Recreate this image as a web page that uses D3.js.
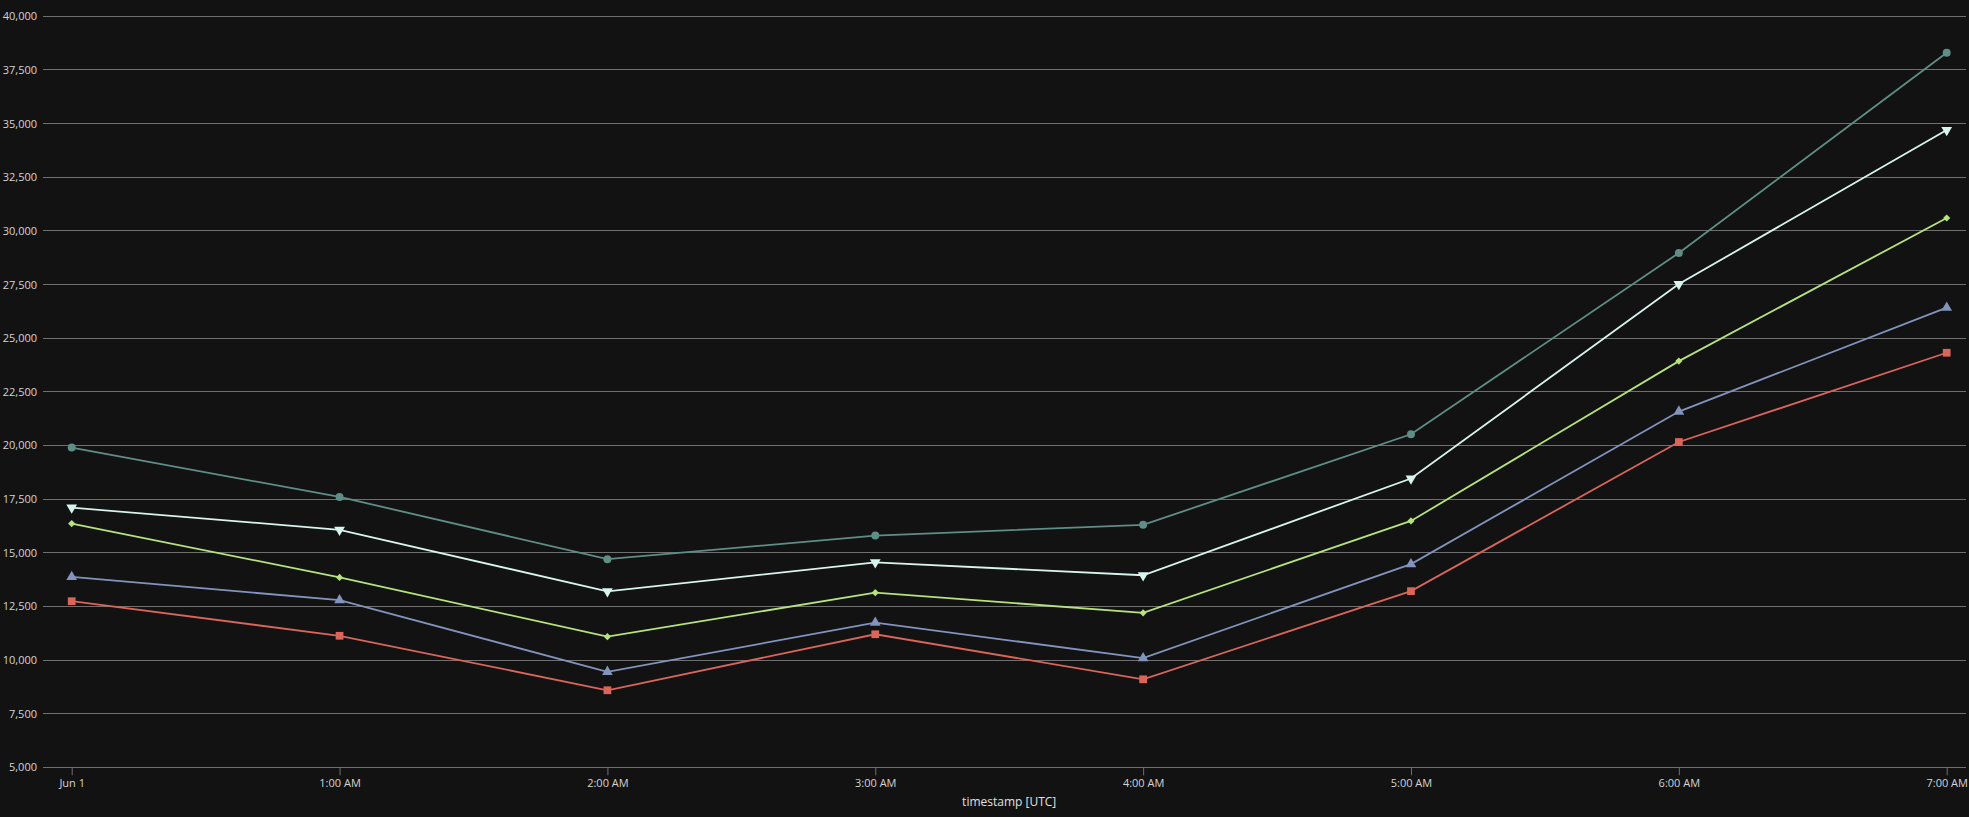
<!DOCTYPE html>
<html>
<head>
<meta charset="utf-8">
<script src="https://cdn.jsdelivr.net/npm/d3@7"></script>
<style>
  html, body { margin: 0; padding: 0; background: #121212; }
  svg { display: block; }
  text { font-family: "Open Sans", "Noto Sans", sans-serif; }
</style>
</head>
<body>
<svg id="chart" width="1969" height="817"></svg>
<script>
// ---- data ----
const hours = [0, 1, 2, 3, 4, 5, 6, 7];
const xTickLabels = ["Jun 1", "1:00 AM", "2:00 AM", "3:00 AM", "4:00 AM", "5:00 AM", "6:00 AM", "7:00 AM"];
const yTicks = [5000, 7500, 10000, 12500, 15000, 17500, 20000, 22500, 25000, 27500, 30000, 32500, 35000, 37500, 40000];
const seriesTeal  = [19900, 17600, 14700, 15800, 16300, 20520, 28970, 38300];
const seriesWhite = [17100, 16070, 13200, 14550, 13950, 18460, 27520, 34700];
const seriesGreen = [16360, 13850, 11090, 13140, 12200, 16480, 23930, 30600];
const seriesBlue  = [13870, 12790, 9450, 11740, 10090, 14470, 21580, 26420];
const seriesRed   = [12740, 11130, 8590, 11200, 9100, 13210, 20160, 24320];
const xLabel = "timestamp [UTC]";

const series = [
  { values: seriesRed,   color: "#d9655b", symbol: d3.symbolSquare,   size: 60, rotate: 0 },
  { values: seriesBlue,  color: "#8294bd", symbol: d3.symbolTriangle, size: 50, rotate: 0 },
  { values: seriesGreen, color: "#b6e37c", symbol: d3.symbolSquare,   size: 26, rotate: 45 },
  { values: seriesWhite, color: "#d8f4ef", symbol: d3.symbolTriangle, size: 50, rotate: 180 },
  { values: seriesTeal,  color: "#5e8e86", symbol: d3.symbolCircle,   size: 50, rotate: 0 }
];

const dates = hours.map(h => new Date(Date.UTC(2023, 5, 1, h)));

const svg = d3.select("#chart");
const x = d3.scaleUtc().domain([dates[0], dates[dates.length - 1]]).range([71.7, 1946.7]);
const y = d3.scaleLinear().domain([5000, 40000]).range([767.3, 16.3]);

// grid lines + y labels
const yAxis = d3.axisLeft(y).tickValues(yTicks).tickFormat(d3.format(",")).tickSize(0).tickPadding(6);
const gy = svg.append("g").attr("transform", "translate(43,0)").call(yAxis);
gy.select(".domain").remove();
gy.selectAll("text").attr("fill", "#d4d4d4").attr("font-size", 11);

svg.append("g").selectAll("line").data(yTicks).join("line")
  .attr("x1", 43).attr("x2", 1966)
  .attr("y1", d => y(d)).attr("y2", d => y(d))
  .attr("stroke", "#6f6f6f").attr("stroke-width", 1).attr("shape-rendering", "crispEdges");

// x axis
const xAxis = d3.axisBottom(x).tickValues(dates).tickFormat((d, i) => xTickLabels[i]).tickSize(8).tickPadding(4);
const gx = svg.append("g").attr("transform", `translate(0,${y(5000)})`).call(xAxis);
gx.select(".domain").remove();
gx.selectAll(".tick line").attr("stroke", "#6f6f6f");
gx.selectAll("text").attr("fill", "#d4d4d4").attr("font-size", 11);

svg.append("text")
  .attr("x", (x.range()[0] + x.range()[1]) / 2)
  .attr("y", 806)
  .attr("text-anchor", "middle")
  .attr("fill", "#e0e0e0")
  .attr("font-size", 12)
  .text(xLabel);

// lines and markers
const line = d3.line().x((d, i) => x(dates[i])).y(d => y(d));
series.forEach(s => {
  svg.append("path").datum(s.values)
    .attr("d", line)
    .attr("fill", "none")
    .attr("stroke", s.color)
    .attr("stroke-width", 1.8);
  svg.append("g").selectAll("path").data(s.values).join("path")
    .attr("d", d3.symbol().type(s.symbol).size(s.size))
    .attr("transform", (d, i) => `translate(${x(dates[i])},${y(d)}) rotate(${s.rotate})`)
    .attr("fill", s.color);
});
</script>
</body>
</html>
